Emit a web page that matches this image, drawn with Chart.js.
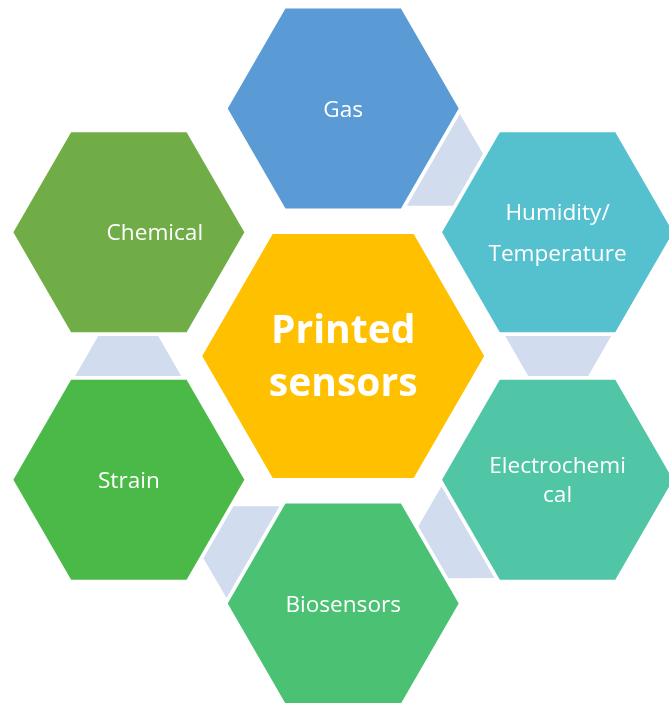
<!DOCTYPE html>
<html>
<head>
<meta charset="utf-8">
<script src="https://cdn.jsdelivr.net/npm/chart.js@4.4.1/dist/chart.umd.min.js"></script>
<style>
  html, body { margin: 0; padding: 0; background: #fff; }
  #wrap { width: 669px; height: 703px; position: relative; }
</style>
</head>
<body>
<div id="wrap"><canvas id="hexChart"></canvas></div>
<script>
// diagram content
const centerLabel = ['Printed', 'sensors'];
const nodeLabels = [['Gas'], ['Humidity/', 'Temperature'], ['Electrochemi', 'cal'], ['Biosensors'], ['Strain'], ['Chemical']];
const nodeAngles = [90, 30, -30, -90, -150, 150];
const nodeColors = ['#5B9BD5', '#56C1CE', '#50C6A7', '#4BC174', '#4AB948', '#70AD47'];
const centerColor = '#FFC000';
const connectorColor = '#D1DCEE';
// connector i joins node i and node i+1 (no connector between Chemical and Gas)
const connectorPairs = [[0, 1], [1, 2], [2, 3], [3, 4], [4, 5]];

// layout (pixels, same units as the hidden axes)
const CX = 343.2, CY = 356;
const RING = 247.5;        // centre -> satellite distance
const R_NODE = 115.5, R_CENTER = 141;
const CONN_DIST = 215, CONN_LONG = 106, CONN_SHORT = 60, CONN_H = 40;
const lineGap = [0, 41, 29, 0, 0, 0];
const textShiftX = [0, 0, 0, 0, 0, 26];

const rad = d => d * Math.PI / 180;

function hexPoints(cx, cy, r) {
  const pts = [];
  for (let k = 0; k <= 6; k++) {
    const a = rad(60 * (k % 6));
    pts.push({ x: cx + r * Math.cos(a), y: cy - r * Math.sin(a) });
  }
  return pts;
}

function nodeCenter(i) {
  const a = rad(nodeAngles[i]);
  return { x: CX + RING * Math.cos(a), y: CY - RING * Math.sin(a) };
}

function connectorPoints(a1, a2) {
  const delta = ((a2 - a1 + 540) % 360) - 180;
  const m = rad(a1 + delta / 2);
  const ux = Math.cos(m), uy = -Math.sin(m);          // along the radius
  const vx = -Math.sin(m), vy = -Math.cos(m);         // towards node a1
  const mx = CX + CONN_DIST * ux, my = CY + CONN_DIST * uy;
  const h = CONN_H / 2, L = CONN_LONG / 2, S = CONN_SHORT / 2;
  const p = (u, v) => ({ x: mx + u * ux + v * vx, y: my + u * uy + v * vy });
  return [p(-L, h), p(L, h), p(S, -h), p(-S, -h), p(-L, h)];
}

function shapeDataset(pts, color) {
  return {
    data: pts, showLine: true, fill: 'shape', backgroundColor: color,
    borderColor: 'rgba(0,0,0,0)', borderWidth: 0, pointRadius: 0, tension: 0, clip: false
  };
}

const datasets = [];
connectorPairs.forEach(([i, j]) => datasets.push(shapeDataset(connectorPoints(nodeAngles[i], nodeAngles[j]), connectorColor)));
datasets.push(shapeDataset(hexPoints(CX, CY, R_CENTER), centerColor));
nodeLabels.forEach((lab, i) => {
  const c = nodeCenter(i);
  datasets.push(shapeDataset(hexPoints(c.x, c.y, R_NODE), nodeColors[i]));
});

// draws the labels at the hexagon centres
const hexLabels = {
  id: 'hexLabels',
  afterDatasetsDraw(chart) {
    const { ctx, scales } = chart;
    const put = (lines, cx, cy, font, cap, gap) => {
      ctx.font = font;
      const first = scales.y.getPixelForValue(cy) + cap / 2 - gap * (lines.length - 1) / 2;
      lines.forEach((t, k) => ctx.fillText(t, scales.x.getPixelForValue(cx), first + k * gap));
    };
    ctx.save();
    ctx.fillStyle = '#ffffff';
    ctx.textAlign = 'center';
    ctx.textBaseline = 'alphabetic';
    put(centerLabel, CX, CY, 'bold 39px "Open Sans"', 27.5, 53);
    nodeLabels.forEach((lines, i) => {
      const c = nodeCenter(i);
      put(lines, c.x + textShiftX[i], c.y, '22.6px "Open Sans"', 16, lineGap[i]);
    });
    ctx.restore();
  }
};

new Chart(document.getElementById('hexChart'), {
  type: 'scatter',
  data: { datasets },
  options: {
    responsive: true,
    maintainAspectRatio: false,
    animation: false,
    layout: { padding: 0 },
    scales: {
      x: { type: 'linear', min: 0, max: 669, display: false },
      y: { type: 'linear', min: 0, max: 703, reverse: true, display: false }
    },
    plugins: { legend: { display: false }, tooltip: { enabled: false } }
  },
  plugins: [hexLabels]
});
</script>
</body>
</html>
